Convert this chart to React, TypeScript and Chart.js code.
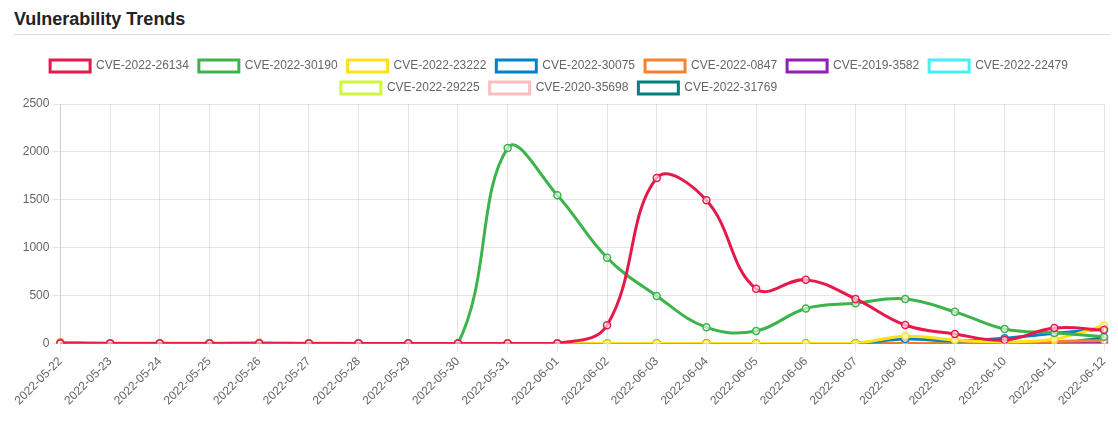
import React, { useEffect, useRef } from "react";
import { Chart, registerables } from "chart.js";

Chart.register(...registerables);

const labels = [
  "2022-05-22", "2022-05-23", "2022-05-24", "2022-05-25", "2022-05-26", "2022-05-27",
  "2022-05-28", "2022-05-29", "2022-05-30", "2022-05-31", "2022-06-01", "2022-06-02",
  "2022-06-03", "2022-06-04", "2022-06-05", "2022-06-06", "2022-06-07", "2022-06-08",
  "2022-06-09", "2022-06-10", "2022-06-11", "2022-06-12",
];

const seriesNames = [
  "CVE-2022-26134", "CVE-2022-30190", "CVE-2022-23222", "CVE-2022-30075", "CVE-2022-0847",
  "CVE-2019-3582", "CVE-2022-22479", "CVE-2022-29225", "CVE-2020-35698", "CVE-2022-31769",
];

const seriesColors = [
  "#e6194b", "#3cb44b", "#ffe119", "#0082c8", "#f58231",
  "#911eb4", "#46f0f0", "#d2f53c", "#fabebe", "#008080",
];

const cve202226134 = [0, 0, 0, 0, 0, 0, 0, 0, 0, 0, 0, 190, 1728, 1494, 570, 665, 465, 192, 98, 35, 160, 140];
const cve202230190 = [0, 0, 0, 0, 0, 0, 0, 0, 0, 2040, 1548, 895, 495, 168, 130, 365, 420, 465, 330, 150, 110, 70];
const cve202223222 = [0, 0, 0, 0, 0, 0, 0, 0, 0, 0, 0, 0, 0, 0, 0, 0, 0, 75, 35, 15, 45, 185];
const cve202230075 = [0, 0, 0, 0, 0, 0, 0, 0, 0, 0, 0, 0, 0, 0, 0, 0, 0, 45, 25, 55, 105, 150];
const cve20220847 = [12, 3, 3, 3, 8, 3, 0, 0, 0, 0, 0, 0, 0, 0, 0, 0, 0, 0, 0, 0, 20, 30];
const cve20193582 = [0, 0, 0, 0, 0, 0, 0, 0, 0, 0, 0, 0, 0, 0, 0, 0, 0, 0, 0, 0, 0, 5];
const cve202222479 = [0, 0, 0, 0, 0, 0, 0, 0, 0, 0, 0, 0, 0, 0, 0, 0, 0, 0, 0, 0, 5, 20];
const cve202229225 = [0, 0, 0, 0, 0, 0, 0, 0, 0, 0, 0, 0, 0, 0, 0, 0, 0, 0, 0, 0, 0, 0];
const cve202035698 = [0, 0, 0, 0, 0, 0, 0, 0, 0, 0, 0, 0, 0, 0, 0, 0, 0, 0, 0, 0, 0, 0];
const cve202231769 = [0, 0, 0, 0, 0, 0, 0, 0, 0, 0, 0, 0, 0, 0, 0, 0, 0, 0, 0, 0, 0, 60];

const seriesValues = [
  cve202226134, cve202230190, cve202223222, cve202230075, cve20220847,
  cve20193582, cve202222479, cve202229225, cve202035698, cve202231769,
];

const yTicks = [0, 500, 1000, 1500, 2000, 2500];

export default function App() {
  const ref = useRef<HTMLCanvasElement | null>(null);

  useEffect(() => {
    if (!ref.current) return;
    const chart = new Chart(ref.current, {
      type: "line",
      data: {
        labels,
        datasets: seriesNames.map((name, i) => ({
          label: name,
          data: seriesValues[i],
          borderColor: seriesColors[i],
          backgroundColor: "#ffffff",
          pointBackgroundColor: "rgba(255,255,255,0.6)",
          pointBorderColor: seriesColors[i],
          borderWidth: 3,
          pointRadius: 3.5,
          pointBorderWidth: 1.5,
          tension: 0.4,
          fill: false,
        })),
      },
      options: {
        animation: false,
        responsive: true,
        maintainAspectRatio: false,
        layout: { padding: { left: 0, right: 14, top: 0, bottom: 0 } },
        plugins: {
          legend: {
            position: "top",
            labels: { boxWidth: 40, color: "#666", font: { size: 12 } },
          },
          tooltip: { enabled: false },
        },
        scales: {
          x: {
            grid: { color: "rgba(0,0,0,0.1)" },
            ticks: { minRotation: 45, maxRotation: 45, color: "#666", font: { size: 12 } },
          },
          y: {
            min: 0,
            max: 2500,
            afterBuildTicks: (axis: any) => {
              axis.ticks = yTicks.map((v) => ({ value: v }));
            },
            grid: { color: "rgba(0,0,0,0.1)" },
            ticks: {
              color: "#666",
              font: { size: 12 },
              callback: (v: any) => String(v),
            },
          },
        },
      },
    });
    return () => chart.destroy();
  }, []);

  return (
    <div style={{ fontFamily: "'Liberation Sans', Arial, sans-serif" }}>
      <div
        style={{
          marginLeft: 6,
          fontWeight: "bold",
          fontSize: 18,
          lineHeight: "22px",
          height: 22,
          paddingBottom: 4,
          color: "#222",
          borderBottom: "1px solid #ddd",
        }}
      >
        Vulnerability Trends
      </div>
      <div style={{ position: "relative", height: 361, marginTop: 15, marginLeft: 6, marginRight: -8 }}>
        <canvas ref={ref} />
      </div>
    </div>
  );
}
